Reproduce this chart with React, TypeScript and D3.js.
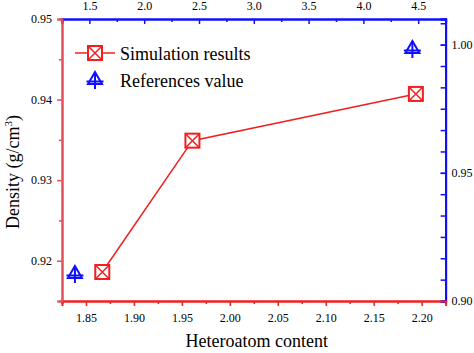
import React, { useEffect, useRef } from 'react'
import * as d3 from 'd3'

// simulation results (bottom / left axes)
const simContent = [1.867, 1.961, 2.194]
const simDensity = [0.9186, 0.9349, 0.9407]

// references value (top / right axes)
const refContent = [1.368, 4.447]
const refDensity = [0.9105, 0.9983]

const leftTicks = [0.92, 0.93, 0.94, 0.95]
const leftMinor = [0.915, 0.925, 0.935, 0.945]
const bottomTicks = [1.85, 1.9, 1.95, 2.0, 2.05, 2.1, 2.15, 2.2]
const bottomMinor = [1.825, 1.875, 1.925, 1.975, 2.025, 2.075, 2.125, 2.175, 2.225]
const topTicks = [1.5, 2.0, 2.5, 3.0, 3.5, 4.0, 4.5]
const topMinor = [1.25, 1.75, 2.25, 2.75, 3.25, 3.75, 4.25, 4.75]
const rightTicks = [0.9, 0.95, 1.0]

const width = 474
const height = 353
const margin = { top: 19, right: 28.4, bottom: 52, left: 62 }

const RED = '#f02020'
const LEFTRED = '#e4505a'
const BLUE = '#1010ff'
const FONT = '"Liberation Serif", "Times New Roman", serif'

export default function App() {
  const ref = useRef<SVGSVGElement>(null)

  useEffect(() => {
    const svg = d3.select(ref.current)
    svg.selectAll('*').remove()

    const x = d3.scaleLinear().domain([1.825, 2.225]).range([margin.left, width - margin.right])
    const xTop = d3.scaleLinear().domain([1.25, 4.75]).range([margin.left, width - margin.right])
    const y = d3.scaleLinear().domain([0.915, 0.95]).range([height - margin.bottom, margin.top])
    const yRight = d3.scaleLinear().domain([0.9, 1.01]).range([height - margin.bottom, margin.top])

    const bottom = height - margin.bottom
    const right = width - margin.right

    const styleAxis = (g: any, color: string) => {
      g.attr('font-family', FONT).attr('font-size', 12)
      g.select('.domain').attr('stroke', color).attr('stroke-width', 2)
      g.selectAll('.tick line').attr('stroke', color).attr('stroke-width', 1.5)
      g.selectAll('text').attr('fill', '#000').style('font-family', FONT).style('font-size', '12px')
    }

    // minor ticks first
    svg.append('g').attr('transform', `translate(${margin.left},0)`)
      .call(d3.axisLeft(y).tickValues(leftMinor).tickSize(3).tickFormat(() => ''))
      .call((g: any) => styleAxis(g, LEFTRED))
    svg.append('g').attr('transform', `translate(0,${bottom})`)
      .call(d3.axisBottom(x).tickValues(bottomMinor).tickSize(3).tickFormat(() => ''))
      .call((g: any) => styleAxis(g, RED))
    svg.append('g').attr('transform', `translate(0,${margin.top})`)
      .call(d3.axisTop(xTop).tickValues(topMinor).tickSize(-3).tickFormat(() => ''))
      .call((g: any) => styleAxis(g, BLUE))
    const rightMinor = d3.range(0, 14).map(i => 0.9 + i * 0.05 / 6).filter(v => v <= 1.01)
    svg.append('g').attr('transform', `translate(${right},0)`)
      .call(d3.axisRight(yRight).tickValues(rightMinor).tickSize(-5).tickFormat(() => ''))
      .call((g: any) => styleAxis(g, BLUE))

    // major ticks
    svg.append('g').attr('transform', `translate(0,${margin.top})`)
      .call(d3.axisTop(xTop).tickValues(topTicks).tickSize(-5).tickPadding(9).tickFormat(d3.format('.1f')))
      .call((g: any) => styleAxis(g, BLUE))
    svg.append('g').attr('transform', `translate(${right},0)`)
      .call(d3.axisRight(yRight).tickValues(rightTicks).tickSize(-5).tickPadding(6).tickFormat(d3.format('.2f')))
      .call((g: any) => styleAxis(g, BLUE))
    svg.append('g').attr('transform', `translate(0,${bottom})`)
      .call(d3.axisBottom(x).tickValues(bottomTicks).tickSize(5).tickPadding(7).tickFormat(d3.format('.2f')))
      .call((g: any) => styleAxis(g, RED))
    svg.append('g').attr('transform', `translate(${margin.left},0)`)
      .call(d3.axisLeft(y).tickValues(leftTicks).tickSize(5).tickPadding(5).tickFormat(d3.format('.2f')))
      .call((g: any) => styleAxis(g, LEFTRED))

    // axis titles
    svg.append('text')
      .attr('x', (margin.left + right) / 2 + 3).attr('y', 347)
      .attr('text-anchor', 'middle')
      .attr('font-family', FONT).attr('font-size', 18)
      .text('Heteroatom content')

    const yl = svg.append('text')
      .attr('transform', 'translate(19,172) rotate(-90)')
      .attr('text-anchor', 'middle')
      .attr('font-family', FONT).attr('font-size', 18)
    yl.append('tspan').text('Density (g/cm')
    yl.append('tspan').attr('font-size', 11).attr('dy', -7).text('3')
    yl.append('tspan').attr('dy', 7).text(')')

    const squareMarker = (g: any, cx: number, cy: number) => {
      const s = 7
      g.append('rect').attr('x', cx - s).attr('y', cy - s).attr('width', 2 * s).attr('height', 2 * s)
        .attr('fill', '#fff').attr('stroke', RED).attr('stroke-width', 2)
      g.append('path')
        .attr('d', `M${cx - s},${cy - s}L${cx + s},${cy + s}M${cx + s},${cy - s}L${cx - s},${cy + s}`)
        .attr('stroke', RED).attr('stroke-width', 1.5)
    }

    const triMarker = (g: any, cx: number, cy: number) => {
      g.append('path')
        .attr('d', `M${cx},${cy - 8}L${cx - 7},${cy + 4}L${cx + 7},${cy + 4}Z`)
        .attr('fill', '#fff').attr('stroke', BLUE).attr('stroke-width', 2)
      g.append('path')
        .attr('d', `M${cx - 8.5},${cy + 1.5}L${cx + 8.5},${cy + 1.5}M${cx},${cy - 8}L${cx},${cy + 9}`)
        .attr('stroke', BLUE).attr('stroke-width', 2)
    }

    // simulation line + markers
    const sim = simContent.map((c, i) => [c, simDensity[i]] as [number, number])
    svg.append('path')
      .datum(sim)
      .attr('fill', 'none').attr('stroke', RED).attr('stroke-width', 1.5)
      .attr('d', d3.line<[number, number]>().x(d => x(d[0])).y(d => y(d[1])))
    const mg = svg.append('g')
    sim.forEach(d => squareMarker(mg, x(d[0]), y(d[1])))

    refContent.forEach((c, i) => triMarker(mg, xTop(c), yRight(refDensity[i])))

    // legend
    const lg = svg.append('g')
    lg.append('line').attr('x1', 75).attr('x2', 115).attr('y1', 53).attr('y2', 53)
      .attr('stroke', RED).attr('stroke-width', 1.5)
    squareMarker(lg, 95, 53)
    lg.append('text').attr('x', 120).attr('y', 60)
      .attr('font-family', FONT).attr('font-size', 18).text('Simulation results')
    triMarker(lg, 95, 80)
    lg.append('text').attr('x', 120).attr('y', 87)
      .attr('font-family', FONT).attr('font-size', 18).text('References value')
  }, [])

  return (
    <div style={{ position: 'absolute', left: 0, top: 0 }}>
      <svg ref={ref} width={width} height={height} style={{ display: 'block', background: '#fff' }} />
    </div>
  )
}
